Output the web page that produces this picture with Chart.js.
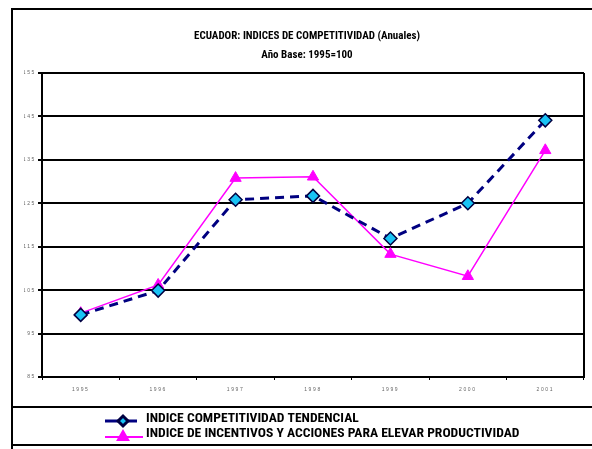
<!DOCTYPE html>
<html>
<head>
<meta charset="utf-8">
<script src="https://cdn.jsdelivr.net/npm/chart.js@4/dist/chart.umd.min.js"></script>
<style>
  html, body { margin: 0; padding: 0; background: #ffffff; }
  #wrap { width: 592px; height: 449px; position: relative; }
</style>
</head>
<body>
<div id="wrap"><canvas id="c" width="592" height="449"></canvas></div>
<script>
// ---- Data ----
const categories = ['1995', '1996', '1997', '1998', '1999', '2000', '2001'];
const competitividadTendencial = [99.3, 104.9, 125.8, 126.7, 116.9, 125.0, 144.1];
const incentivosProductividad = [99.7, 106.2, 130.8, 131.1, 113.3, 108.2, 137.2];
const seriesLabels = ['INDICE COMPETITIVIDAD TENDENCIAL', 'INDICE DE INCENTIVOS Y ACCIONES PARA ELEVAR PRODUCTIVIDAD'];
const titleText = 'ECUADOR: INDICES DE COMPETITIVIDAD (Anuales)';
const subtitleText = 'Año Base: 1995=100';
const yMin = 85, yMax = 155, yStep = 10;

const NARROW = "'Liberation Sans Narrow', 'Arial Narrow', 'Roboto Condensed', 'Liberation Sans', Arial, sans-serif";

const framePlugin = {
  id: 'frame',
  afterLayout(chart) {
    ['x', 'y'].forEach(id => {
      const s = chart.scales[id];
      if (s && !s._patched) {
        const orig = s.drawLabels.bind(s);
        s.drawLabels = function (area) {
          const ctx = this.ctx;
          ctx.save();
          ctx.letterSpacing = '1.6px';
          orig(area);
          ctx.restore();
        };
        s._patched = true;
      }
    });
  },
  afterDatasetsDraw(chart) {
    const { ctx, chartArea: a } = chart;
    ctx.save();
    ctx.strokeStyle = '#000';
    ctx.lineWidth = 2;
    ctx.beginPath();
    ctx.moveTo(a.right, a.top);
    ctx.lineTo(a.right, a.bottom);
    ctx.stroke();
    ctx.restore();
  },
  afterDraw(chart) {
    const { ctx } = chart;
    ctx.save();
    ctx.strokeStyle = '#000';
    ctx.lineWidth = 2;
    ctx.strokeRect(12, 9, 600, 460);
    ctx.beginPath();
    ctx.moveTo(12, 407); ctx.lineTo(592, 407);
    ctx.moveTo(12, 445); ctx.lineTo(592, 445);
    ctx.stroke();

    // legend
    const ds = chart.data.datasets;
    const rows = [419, 434];
    const markY = [421, 437];
    ds.forEach((d, i) => {
      ctx.save();
      ctx.strokeStyle = d.borderColor;
      ctx.lineWidth = i === 0 ? 3 : 2;
      ctx.beginPath();
      ctx.moveTo(105, markY[i]);
      ctx.lineTo(i === 0 ? 137 : 143, markY[i]);
      ctx.stroke();
      ctx.fillStyle = d.pointBackgroundColor;
      ctx.strokeStyle = d.pointBorderColor;
      Chart.helpers.drawPoint(ctx, {
        pointStyle: d.pointStyle,
        radius: i === 0 ? 5 : 6,
        borderWidth: d.pointBorderWidth,
        rotation: 0
      }, 123, markY[i]);
      ctx.restore();
      ctx.fillStyle = '#000';
      ctx.font = "bold 13.6px " + NARROW;
      ctx.textBaseline = 'middle';
      ctx.textAlign = 'left';
      ctx.fillText(d.label, 146, rows[i]);
    });
    ctx.restore();
  }
};

new Chart(document.getElementById('c'), {
  type: 'line',
  data: {
    labels: categories,
    datasets: [
      {
        label: seriesLabels[0],
        data: competitividadTendencial,
        borderColor: '#000080',
        borderWidth: 3,
        borderDash: [9, 6],
        pointStyle: 'rectRot',
        pointRadius: 6.5,
        pointHoverRadius: 6.5,
        pointBackgroundColor: '#19c3f5',
        pointBorderColor: '#000040',
        pointBorderWidth: 1.5,
        tension: 0,
        fill: false
      },
      {
        label: seriesLabels[1],
        data: incentivosProductividad,
        borderColor: '#ff00ff',
        borderWidth: 1.5,
        pointStyle: 'triangle',
        pointRadius: 6.5,
        pointHoverRadius: 6.5,
        pointBackgroundColor: '#ff00ff',
        pointBorderColor: '#ff00ff',
        pointBorderWidth: 1,
        tension: 0,
        fill: false
      }
    ]
  },
  options: {
    responsive: false,
    animation: false,
    devicePixelRatio: 1,
    layout: { padding: { left: 24, right: 2, top: 0, bottom: 44 } },
    plugins: {
      legend: { display: false },
      tooltip: { enabled: false },
      title: {
        display: true,
        text: titleText,
        color: '#000',
        font: { family: NARROW, size: 11, weight: 'bold', lineHeight: 1.2 },
        padding: { top: 30, bottom: 5 }
      },
      subtitle: {
        display: true,
        text: subtitleText,
        color: '#000',
        font: { family: NARROW, size: 11, weight: 'bold', lineHeight: 1.2 },
        padding: { top: 0, bottom: 11.6 }
      }
    },
    scales: {
      x: {
        type: 'category',
        offset: true,
        afterFit(s) { s.height = 28; },
        grid: {
          display: true,
          offset: true,
          drawOnChartArea: false,
          drawTicks: true,
          tickLength: 3,
          color: '#000',
          lineWidth: 1
        },
        border: { display: true, color: '#000', width: 2 },
        ticks: {
          color: '#666',
          font: { family: "'Liberation Sans', Arial, sans-serif", size: 5 },
          padding: 7,
          maxRotation: 0,
          autoSkip: false
        }
      },
      y: {
        min: yMin,
        max: yMax,
        afterFit(s) { s.width = 18; },
        grid: {
          display: true,
          drawOnChartArea: true,
          drawTicks: true,
          tickLength: 4,
          color: '#000',
          lineWidth: 2
        },
        border: { display: true, color: '#000', width: 2 },
        ticks: {
          stepSize: yStep,
          color: '#666',
          font: { family: "'Liberation Sans', Arial, sans-serif", size: 5 },
          padding: 2
        }
      }
    }
  },
  plugins: [framePlugin]
});
</script>
</body>
</html>
